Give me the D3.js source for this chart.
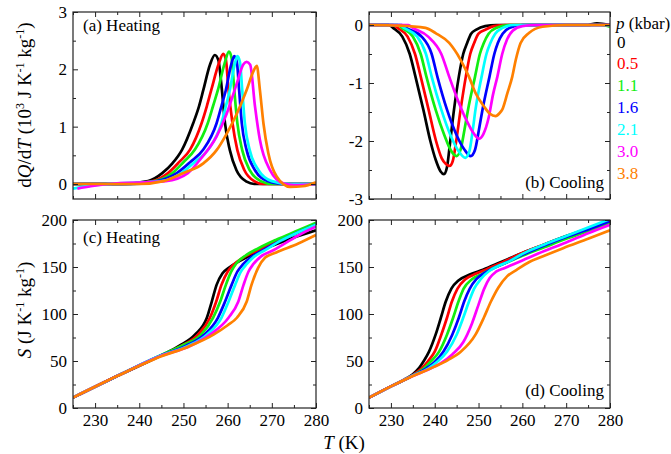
<!DOCTYPE html>
<html>
<head>
<meta charset="utf-8">
<script src="https://cdn.jsdelivr.net/npm/d3@7"></script>
<style>
  body { margin: 0; background: #fff; }
</style>
</head>
<body>
<div id="chart"></div>
<script>
var serif = "Liberation Serif";

// pressures (kbar) and one colour per curve
var pressures = ["0", "0.5", "1.1", "1.6", "2.1", "3.0", "3.8"];
var colors = ["#000000", "#ff0000", "#11ee11", "#0000ff", "#00ffff", "#ff00ff", "#ff8000"];

// (a) dQ/dT on heating, [T (K), 10^3 J K^-1 kg^-1]
var heatDQ = [
  [[225,0],[236,0],[242,0.05],[245.2,0.19],[247.5,0.36],[249.7,0.6],[252.2,1.06],[253.5,1.35],[254.5,1.64],[256,2.08],[257.1,2.25],[257.9,2.16],[258.7,1.64],[259.4,1.06],[260.5,0.59],[262,0.24],[264.3,0.04],[266,0],[280,0]],
  [[225,0],[237,0],[243,0.05],[246.5,0.19],[249,0.38],[251.5,0.6],[254.1,1.06],[255.3,1.36],[256.3,1.64],[258,2.1],[259,2.27],[259.6,2.17],[260.2,1.64],[261.1,1.06],[262.2,0.59],[263.8,0.24],[266,0.05],[268,0],[280,0]],
  [[225,0],[238,0],[243.5,0.05],[247.5,0.19],[250,0.38],[252.6,0.6],[255.5,1.06],[256.7,1.36],[257.8,1.64],[259.3,2.1],[260.3,2.31],[260.9,2.2],[261.5,1.64],[262.2,1.06],[263.3,0.59],[265,0.24],[267.5,0.05],[270,0],[280,0]],
  [[225,0],[238,0],[244,0.05],[248.5,0.19],[251.5,0.38],[254.5,0.6],[257.5,1.06],[258.6,1.36],[259.6,1.64],[260.7,2.05],[261.5,2.23],[262.1,2.12],[262.6,1.64],[263.2,1.06],[264.3,0.59],[266.2,0.24],[269,0.05],[272,0],[280,0]],
  [[225,-0.08],[229,-0.03],[233,0],[245,0.05],[249.5,0.19],[252.5,0.38],[255.6,0.6],[258.6,1.06],[259.6,1.36],[260.5,1.64],[261.5,2.05],[262.2,2.23],[262.8,2.12],[263.3,1.64],[263.9,1.06],[265,0.59],[267,0.24],[270,0.05],[274,0],[280,0]],
  [[226,-0.08],[229,-0.04],[233,0],[246,0.05],[251,0.19],[253.7,0.42],[257.5,0.83],[259.8,1.23],[262.1,1.76],[263.5,2.08],[264.3,2.13],[265.1,2.08],[266.2,1.35],[267.3,0.77],[269.6,0.24],[272.6,0.01],[275,-0.02],[280,0]],
  [[225,0],[240,0],[245.5,0.05],[250,0.19],[254.5,0.36],[257.5,0.59],[259.8,0.88],[262.1,1.23],[264.3,1.64],[265.8,1.96],[266.6,2.06],[267.3,1.64],[268.1,1.06],[269.2,0.54],[271.1,0.13],[274.1,-0.05],[277,-0.04],[280,0.03]]
];

// (b) dQ/dT on cooling
var coolDQ = [
  [[225,0],[229.5,0],[230.5,-0.05],[232.6,-0.2],[234.3,-0.5],[235.6,-0.89],[237.4,-1.46],[239,-2.0],[240.2,-2.32],[241.3,-2.52],[242.1,-2.57],[242.8,-2.45],[243.5,-2.03],[244.4,-1.46],[245.5,-0.89],[246.5,-0.5],[247.4,-0.31],[248.3,-0.15],[249.5,-0.08],[251.5,-0.02],[254,0],[275,0],[277,0.03],[280,0]],
  [[225,0],[230.5,0],[231.5,-0.05],[233.8,-0.2],[235.5,-0.5],[236.8,-0.89],[238.6,-1.46],[240.3,-2.0],[241.6,-2.3],[242.6,-2.4],[243.4,-2.43],[244.1,-2.35],[244.9,-2.0],[245.9,-1.46],[247.1,-0.89],[248.1,-0.5],[249,-0.31],[250,-0.15],[251.6,-0.08],[253.5,-0.02],[256,0],[280,0]],
  [[225,0],[231.5,0],[232.5,-0.05],[235,-0.2],[236.8,-0.5],[238.1,-0.89],[240.2,-1.46],[242.2,-1.9],[243.6,-2.15],[245,-2.26],[245.9,-2.15],[246.8,-1.8],[247.6,-1.46],[249.2,-0.89],[250.3,-0.5],[251.2,-0.31],[252.3,-0.15],[254,-0.05],[257,0],[278,0],[280,-0.03]],
  [[225,0],[232.5,0],[233.5,-0.05],[237,-0.2],[239.3,-0.5],[240.6,-0.89],[242.8,-1.46],[245,-1.9],[246.8,-2.15],[248.2,-2.26],[249.2,-2.15],[250.1,-1.8],[250.9,-1.46],[252.5,-0.89],[253.6,-0.5],[254.4,-0.31],[255.5,-0.15],[257,-0.05],[260,0],[280,0]],
  [[225,0],[232,0],[233,-0.05],[236,-0.2],[238,-0.5],[239.3,-0.89],[241.5,-1.46],[243.6,-1.9],[245.5,-2.18],[247,-2.29],[247.9,-2.18],[248.7,-1.8],[249.3,-1.46],[250.7,-0.89],[251.8,-0.5],[252.7,-0.31],[253.8,-0.15],[255.5,-0.05],[258,0],[280,0]],
  [[225,0],[234,0],[235,-0.05],[238.5,-0.2],[241.5,-0.5],[243.3,-0.89],[245.3,-1.3],[247.3,-1.65],[249,-1.88],[250.1,-1.96],[251.1,-1.88],[252.3,-1.6],[253.3,-1.2],[254.3,-0.89],[255.4,-0.5],[256.5,-0.25],[257.8,-0.1],[260,-0.02],[263,0],[280,0]],
  [[225,0],[232,-0.01],[237.9,-0.05],[240.2,-0.14],[243.3,-0.31],[245.9,-0.6],[247.8,-0.89],[249.3,-1.17],[251.2,-1.4],[252.6,-1.53],[253.9,-1.57],[254.8,-1.52],[255.4,-1.46],[256.6,-1.17],[257.7,-0.89],[258.5,-0.6],[259.6,-0.31],[261.5,-0.14],[264.6,-0.03],[270,0],[280,0]]
];

// (c) entropy on heating, [T (K), J K^-1 kg^-1]
var heatS = [
  [[225,11],[235,34],[245,56],[249,66],[252.6,78],[255.3,96],[256.4,113],[257.5,131],[258.8,143],[260.5,150],[263,157],[267.3,167],[272,176],[276,183],[280,189]],
  [[225,11],[235,34],[245,56],[249.5,66],[253.3,78],[256,96],[257.4,113],[258.6,131],[260,145],[261.2,152],[263.5,160],[267,168],[271,177],[276,187],[280,195]],
  [[225,11],[235,34],[245,56.5],[250,67],[254,78],[256.7,96],[258.3,113],[259.6,131],[260.8,145],[262,154],[264,162],[267,170],[271,179],[276,189],[280,197]],
  [[225,11],[235,34],[245,56],[250.5,66],[254.7,78],[257.8,96],[259.4,113],[260.9,131],[262.2,145],[263.5,153],[265.5,161],[268,168],[272,178],[276,187],[280,195]],
  [[225,11],[235,34],[245,56],[251,66],[255.3,78],[258.6,96],[260.2,113],[261.7,131],[263,145],[264.3,153],[266,161],[268.5,168],[272,178],[276,187],[280,195]],
  [[225,11],[235,34],[245,55.5],[251.5,66],[256,78],[260.2,96],[262.4,113],[263.6,131],[264.7,145],[265.8,153],[267.5,161],[270,167],[274,178],[277,186],[280,193]],
  [[225,11],[235,34],[245,55],[251,65],[256.8,78],[260,88],[262.1,96],[264.3,113],[265.4,131],[266.9,149],[268.5,160],[271,165.5],[276,175],[280,184]]
];

// (d) entropy on cooling
var coolS = [
  [[225,11],[230,23],[233,30],[235,36],[236.5,43],[237.5,50],[238.7,60],[240.2,78],[241.4,96],[242.5,113],[243.8,127],[245.5,136],[248,142],[251,147],[255,155],[260,165],[265,174],[270,183],[275,191],[280,200]],
  [[225,11],[230,23],[233,30],[235,35],[237,42],[238.5,50],[240,60],[241.5,78],[242.8,96],[243.9,113],[245.2,127],[247,137],[249.5,143],[252,148],[255,154],[260,165],[265,174],[270,182],[275,190],[280,199]],
  [[225,11],[230,23],[235,34.5],[237.5,42],[239,49],[241,60],[242.8,78],[244.2,96],[245.4,113],[246.6,127],[248.5,137],[251,143],[253,148],[256,154],[260,162],[265,171],[270,180],[275,188],[280,197]],
  [[225,11],[230,23],[235,34.5],[238,42],[240,49],[242,60],[244,78],[245.5,96],[246.7,113],[248,127],[249.5,137],[251.5,144],[253.5,149],[256,154],[260,163],[265,173],[270,182],[275,190],[280,199]],
  [[225,11],[230,23],[235,34.5],[238.5,42],[240.5,49],[242.8,60],[245,78],[246.5,96],[247.8,113],[249,127],[250.5,137],[252.5,146],[254.5,151],[257,156],[260,164],[265,174],[270,183],[275,192],[280,201]],
  [[225,11],[230,23],[235,34],[239,42],[241.5,48],[244,57],[246.5,70],[248.5,90],[250,110],[251.3,127],[252.5,138],[254,145],[256,149],[260,157],[265,167],[270,176],[275,186],[280,195]],
  [[225,11],[230,23],[235,34],[240,44],[243,51],[246,60],[249.3,78],[251.2,96],[252.8,113],[254.5,128],[256.5,140],[258.7,147],[261.7,155.6],[265,162],[269.3,170],[275,180],[280,189]]
];

var xTicks = [230, 240, 250, 260, 270, 280];
var xMinor = [225, 235, 245, 255, 265, 275];

var svg = d3.select("#chart").append("svg")
  .attr("width", 671)
  .attr("height", 454);

var panels = [
  {id: "a", data: heatDQ, left: 73, right: 316, top: 12, bottom: 199, yDomain: [-0.262, 3],
   yTicks: [0, 1, 2, 3], yMinor: [0.5, 1.5, 2.5], xLabels: false, label: "(a) Heating", lx: 83, ly: 31, anchor: "start"},
  {id: "b", data: coolDQ, left: 369, right: 610, top: 12, bottom: 199, yDomain: [-3, 0.224],
   yTicks: [0, -1, -2, -3], yMinor: [-0.5, -1.5, -2.5], xLabels: false, label: "(b) Cooling", lx: 604, ly: 188, anchor: "end"},
  {id: "c", data: heatS, left: 73, right: 316, top: 220, bottom: 408, yDomain: [0, 200],
   yTicks: [0, 50, 100, 150, 200], yMinor: [25, 75, 125, 175], xLabels: true, label: "(c) Heating", lx: 83, ly: 243, anchor: "start"},
  {id: "d", data: coolS, left: 369, right: 610, top: 220, bottom: 408, yDomain: [0, 200],
   yTicks: [0, 50, 100, 150, 200], yMinor: [25, 75, 125, 175], xLabels: true, label: "(d) Cooling", lx: 604, ly: 396, anchor: "end"}
];

panels.forEach(function (p) {
  var x = d3.scaleLinear().domain([225, 280]).range([p.left, p.right]);
  var y = d3.scaleLinear().domain(p.yDomain).range([p.bottom, p.top]);
  var w = p.right - p.left, h = p.bottom - p.top;

  svg.append("clipPath").attr("id", "clip-" + p.id)
    .append("rect").attr("x", p.left).attr("y", p.top).attr("width", w).attr("height", h);

  // curves
  var line = d3.line()
    .x(d => x(d[0]))
    .y(d => y(d[1]))
    .curve(d3.curveMonotoneX);

  svg.append("g").attr("clip-path", "url(#clip-" + p.id + ")")
    .selectAll("path")
    .data(p.data)
    .enter()
    .append("path")
    .attr("d", line)
    .attr("fill", "none")
    .attr("stroke", (d, i) => colors[i])
    .attr("stroke-width", 2.7)
    .attr("stroke-linejoin", "round");

  // axes, ticks point inward on all four sides
  function addAxis(axis, tx, ty, vals, size, labels) {
    var g = svg.append("g")
      .attr("transform", "translate(" + tx + "," + ty + ")")
      .call(axis.tickValues(vals).tickSize(size).tickPadding(6)
        .tickFormat(labels ? (d => String(d)) : ""));
    g.select(".domain").remove();
    g.selectAll("line").attr("stroke", "#222").attr("stroke-width", 1);
    g.selectAll("text").attr("fill", "#000").attr("font-size", 17);
    return g;
  }

  addAxis(d3.axisBottom(x), 0, p.bottom, xTicks, -5, p.xLabels);
  addAxis(d3.axisBottom(x), 0, p.bottom, xMinor, -3, false);
  addAxis(d3.axisTop(x), 0, p.top, xTicks, -5, false);
  addAxis(d3.axisTop(x), 0, p.top, xMinor, -3, false);
  addAxis(d3.axisLeft(y), p.left, 0, p.yTicks, -5, true);
  addAxis(d3.axisLeft(y), p.left, 0, p.yMinor, -3, false);
  addAxis(d3.axisRight(y), p.right, 0, p.yTicks, -5, false);
  addAxis(d3.axisRight(y), p.right, 0, p.yMinor, -3, false);

  svg.append("rect")
    .attr("x", p.left).attr("y", p.top)
    .attr("width", w).attr("height", h)
    .attr("fill", "none")
    .attr("stroke", "#222")
    .attr("stroke-width", 1.2);

  svg.append("text")
    .attr("x", p.lx).attr("y", p.ly)
    .attr("text-anchor", p.anchor)
    .attr("font-size", 17)
    .text(p.label);
});

// y axis titles
var t1 = svg.append("text")
  .attr("transform", "translate(31,105) rotate(-90)")
  .attr("text-anchor", "middle")
  .attr("font-size", 19);
t1.append("tspan").text("d");
t1.append("tspan").attr("font-style", "italic").text("Q");
t1.append("tspan").text("/d");
t1.append("tspan").attr("font-style", "italic").text("T");
t1.append("tspan").text(" (10");
t1.append("tspan").attr("dy", -7).attr("font-size", 12).text("3");
t1.append("tspan").attr("dy", 7).text(" J K");
t1.append("tspan").attr("dy", -7).attr("font-size", 12).text("-1");
t1.append("tspan").attr("dy", 7).text(" kg");
t1.append("tspan").attr("dy", -7).attr("font-size", 12).text("-1");
t1.append("tspan").attr("dy", 7).text(")");

var t2 = svg.append("text")
  .attr("transform", "translate(31,310) rotate(-90)")
  .attr("text-anchor", "middle")
  .attr("font-size", 19);
t2.append("tspan").attr("font-style", "italic").text("S");
t2.append("tspan").text(" (J K");
t2.append("tspan").attr("dy", -7).attr("font-size", 12).text("-1");
t2.append("tspan").attr("dy", 7).text(" kg");
t2.append("tspan").attr("dy", -7).attr("font-size", 12).text("-1");
t2.append("tspan").attr("dy", 7).text(")");

// x axis title
var t3 = svg.append("text")
  .attr("x", 344).attr("y", 449)
  .attr("text-anchor", "middle")
  .attr("font-size", 19);
t3.append("tspan").attr("font-style", "italic").text("T");
t3.append("tspan").text(" (K)");

// legend
var leg = svg.append("text").attr("x", 616).attr("y", 29).attr("font-size", 17);
leg.append("tspan").attr("font-style", "italic").text("p");
leg.append("tspan").text(" (kbar)");

svg.selectAll(".legitem")
  .data(pressures)
  .enter()
  .append("text")
  .attr("class", "legitem")
  .attr("x", 617)
  .attr("y", (d, i) => 47.5 + i * 21.9)
  .attr("font-size", 17)
  .attr("fill", (d, i) => colors[i])
  .text(d => d);

// every text in the serif face, set directly on the elements
svg.selectAll("g").attr("font-family", serif);
svg.selectAll("text").attr("font-family", serif);
</script>
</body>
</html>
